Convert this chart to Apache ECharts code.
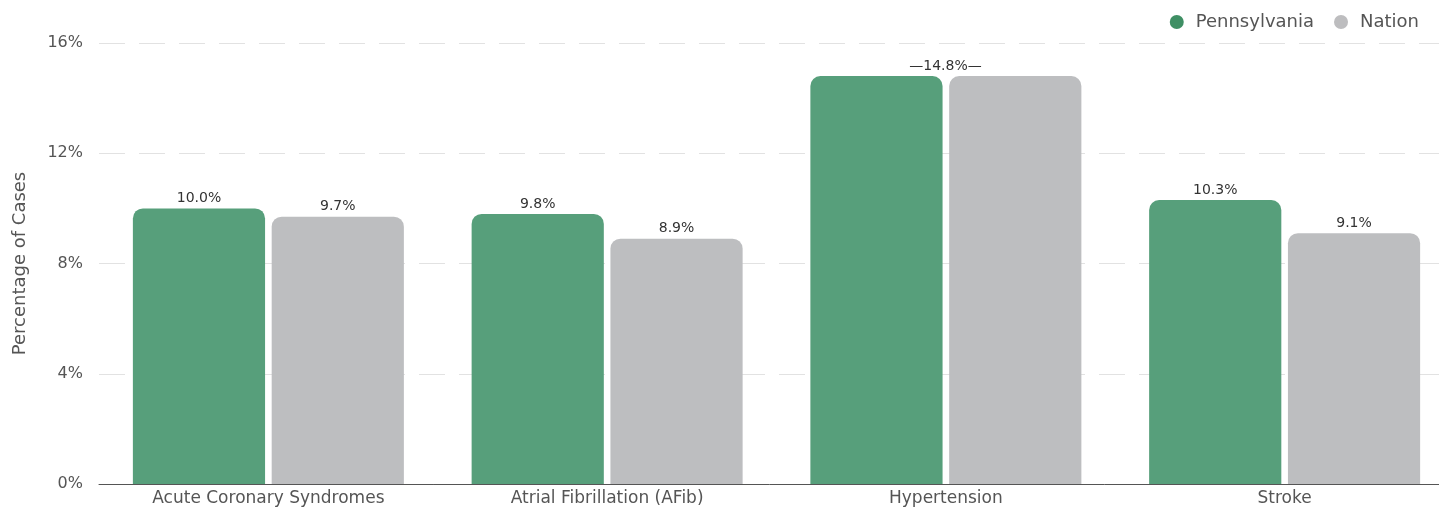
<!DOCTYPE html>
<html>
<head>
<meta charset="utf-8">
<script src="https://cdn.jsdelivr.net/npm/echarts@6/dist/echarts.min.js"></script>
<style>
  html, body { margin: 0; padding: 0; background: #ffffff; }
  #chart { width: 1439px; height: 509px; }
</style>
</head>
<body>
<div id="chart"></div>
<script>
// Share of cases by condition, Pennsylvania vs. the nation (percent)
const categories = ['Acute Coronary Syndromes', 'Atrial Fibrillation (AFib)', 'Hypertension', 'Stroke'];
const pennsylvania = [10.0, 9.8, 14.8, 10.3];
const nation = [9.7, 8.9, 14.8, 9.1];
const yTicks = [0, 4, 8, 12, 16];

const FONT = 'DejaVu Sans';
const GREEN = '#579f7b';
const GREY = '#bdbec0';

// When both regions share a value, one centred label covers the pair
const shared = pennsylvania.map((v, i) => v === nation[i]);

const chart = echarts.init(document.getElementById('chart'), null, { renderer: 'canvas' });

const valueLabel = {
  show: true,
  position: 'top',
  distance: 3,
  fontFamily: FONT,
  fontSize: 14,
  color: '#333333',
  formatter: p => p.value.toFixed(1) + '%'
};

chart.setOption({
  animation: false,
  textStyle: { fontFamily: FONT },
  legend: {
    top: 8,
    right: 15,
    itemWidth: 28,
    itemHeight: 14,
    itemGap: 20,
    icon: 'circle',
    textStyle: { fontFamily: FONT, fontSize: 18, color: '#555555' },
    data: [
      { name: 'Pennsylvania', itemStyle: { color: '#3f8f64' } },
      { name: 'Nation', itemStyle: { color: '#bdbdbf' } }
    ]
  },
  // the plot runs on past the right edge of the page, so the last gridlines are cut off
  grid: { left: 99, top: 43, width: 1355, height: 441, containLabel: false, outerBoundsMode: 'none' },
  xAxis: {
    type: 'category',
    data: categories,
    axisTick: { show: false },
    axisLine: { lineStyle: { color: '#555555', width: 1 } },
    axisLabel: { fontFamily: FONT, fontSize: 17, color: '#555555', margin: 6 }
  },
  yAxis: {
    type: 'value',
    min: yTicks[0],
    max: yTicks[yTicks.length - 1],
    interval: yTicks[1] - yTicks[0],
    name: 'Percentage of Cases',
    nameLocation: 'middle',
    nameGap: 70,
    nameTextStyle: { fontFamily: FONT, fontSize: 18, color: '#555555' },
    axisLine: { show: false },
    axisTick: { show: false },
    axisLabel: { fontFamily: FONT, fontSize: 16, color: '#555555', margin: 16, formatter: v => v + '%' },
    splitLine: { lineStyle: { color: '#e2e2e2', width: 1, type: [26, 14] } }
  },
  series: [
    {
      name: 'Pennsylvania',
      type: 'bar',
      barGap: '5%',
      barCategoryGap: '20%',
      itemStyle: { color: GREEN, borderRadius: [10, 10, 0, 0] },
      label: valueLabel,
      data: pennsylvania.map((v, i) => shared[i]
        ? { value: v, label: { formatter: '—' + v.toFixed(1) + '%—', offset: [69, 0] } }
        : v)
    },
    {
      name: 'Nation',
      type: 'bar',
      itemStyle: { color: GREY, borderRadius: [10, 10, 0, 0] },
      label: valueLabel,
      data: nation.map((v, i) => shared[i] ? { value: v, label: { show: false } } : v)
    }
  ]
});
</script>
</body>
</html>
